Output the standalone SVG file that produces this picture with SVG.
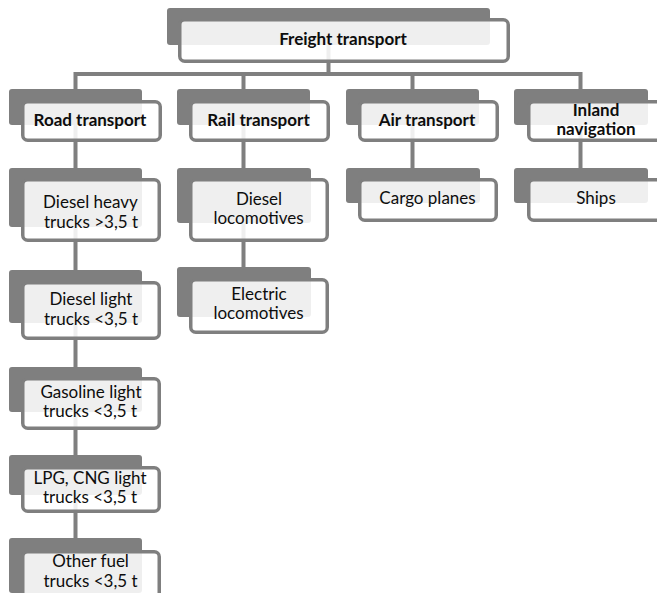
<svg xmlns="http://www.w3.org/2000/svg" width="657" height="593" viewBox="0 0 657 593">
<style>
.bk{fill:#7f7f7f}
.fr{fill:#ffffff;fill-opacity:0.88;stroke:#7f7f7f;stroke-width:3.5}
.cn{fill:none;stroke:#7f7f7f;stroke-width:4}
text{font-family:Lato,"Open Sans","Liberation Sans",sans-serif;font-size:17px;fill:#0d0d0d;text-anchor:middle}
.b{font-weight:bold}
</style>
<rect width="657" height="593" fill="#ffffff"/>
<g id="connectors">
<path class="cn" d="M328.5 40 V74"/>
<path class="cn" d="M75.5 89 V74 H580.5 V89"/>
<path class="cn" d="M243.5 74 V89"/>
<path class="cn" d="M412.5 74 V89"/>
<path class="cn" d="M75.5 120 V545"/>
<path class="cn" d="M243.5 120 V275"/>
<path class="cn" d="M412.5 120 V175"/>
<path class="cn" d="M580.5 120 V175"/>
</g>
<g id="freight">
<rect class="bk" x="167" y="8" width="323" height="37" rx="3"/>
<rect class="fr" x="179.75" y="19.75" width="328.5" height="41.5" rx="5"/>
<text class="b" x="343" y="45">Freight transport</text>
</g>
<g id="road">
<rect class="bk" x="9" y="89" width="133" height="36" rx="3"/>
<rect class="fr" x="22.75" y="101.75" width="137.5" height="38.5" rx="5"/>
<text class="b" x="90" y="126">Road transport</text>
</g>
<g id="rail">
<rect class="bk" x="177" y="89" width="133" height="36" rx="3"/>
<rect class="fr" x="190.75" y="101.75" width="137.5" height="38.5" rx="5"/>
<text class="b" x="258.5" y="126">Rail transport</text>
</g>
<g id="air">
<rect class="bk" x="346" y="89" width="133" height="36" rx="3"/>
<rect class="fr" x="359.75" y="101.75" width="137.5" height="38.5" rx="5"/>
<text class="b" x="427" y="126">Air transport</text>
</g>
<g id="inland">
<rect class="bk" x="514" y="89" width="134" height="36" rx="3"/>
<rect class="fr" x="528.75" y="101.75" width="137.5" height="38.5" rx="5"/>
<text class="b" x="596" y="116">Inland</text>
<text class="b" x="596" y="135">navigation</text>
</g>
<g id="diesel-heavy">
<rect class="bk" x="9" y="168" width="133" height="59" rx="3"/>
<rect class="fr" x="22.75" y="179.75" width="136.5" height="60.5" rx="5"/>
<text x="90.5" y="208">Diesel heavy</text>
<text x="91" y="228">trucks &gt;3,5 t</text>
</g>
<g id="diesel-light">
<rect class="bk" x="9" y="270" width="133" height="53" rx="3"/>
<rect class="fr" x="22.75" y="282.75" width="136.5" height="55.5" rx="5"/>
<text x="91" y="305">Diesel light</text>
<text x="91" y="325">trucks &lt;3,5 t</text>
</g>
<g id="gasoline">
<rect class="bk" x="9" y="367" width="133" height="45" rx="3"/>
<rect class="fr" x="22.75" y="378.75" width="136.5" height="49.5" rx="5"/>
<text x="91" y="398">Gasoline light</text>
<text x="90" y="417">trucks &lt;3,5 t</text>
</g>
<g id="lpg">
<rect class="bk" x="9" y="455" width="133" height="40" rx="3"/>
<rect class="fr" x="22.75" y="467.75" width="136.5" height="43.5" rx="5"/>
<text x="90" y="484">LPG, CNG light</text>
<text x="90" y="503">trucks &lt;3,5 t</text>
</g>
<g id="other">
<rect class="bk" x="9" y="538" width="133" height="55" rx="3"/>
<rect class="fr" x="22.75" y="551.75" width="136.5" height="50" rx="5"/>
<text x="90.5" y="567">Other fuel</text>
<text x="90.5" y="587">trucks &lt;3,5 t</text>
</g>
<g id="diesel-loco">
<rect class="bk" x="177" y="168" width="134" height="55" rx="3"/>
<rect class="fr" x="190.75" y="179.75" width="136.5" height="60.5" rx="5"/>
<text x="259" y="205">Diesel</text>
<text x="258.5" y="224">locomotives</text>
</g>
<g id="electric-loco">
<rect class="bk" x="177" y="267" width="134" height="50" rx="3"/>
<rect class="fr" x="190.75" y="279.75" width="136.5" height="52.5" rx="5"/>
<text x="259" y="300">Electric</text>
<text x="258.5" y="319">locomotives</text>
</g>
<g id="cargo">
<rect class="bk" x="346" y="168" width="134" height="35" rx="3"/>
<rect class="fr" x="359.75" y="179.75" width="136.5" height="40.5" rx="5"/>
<text x="427.5" y="204">Cargo planes</text>
</g>
<g id="ships">
<rect class="bk" x="514" y="168" width="134" height="35" rx="3"/>
<rect class="fr" x="528.75" y="179.75" width="136.5" height="40.5" rx="5"/>
<text x="596" y="204">Ships</text>
</g>
</svg>
